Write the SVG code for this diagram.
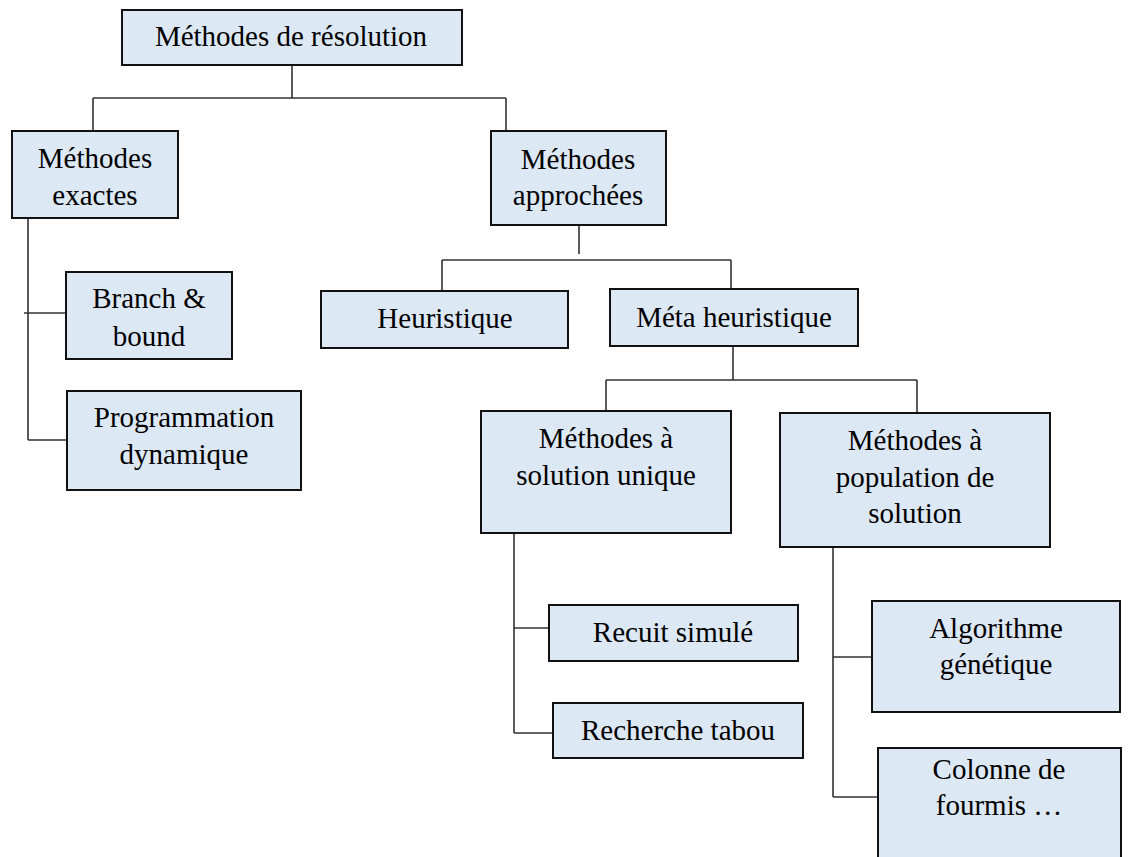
<svg xmlns="http://www.w3.org/2000/svg" width="1131" height="857" viewBox="0 0 1131 857">
  <style>
    .box { fill: #dde8f5; stroke: #111; stroke-width: 2; }
    .lbl { font-family: "Liberation Serif", "Times New Roman", serif; font-size: 29px; fill: #000; text-anchor: middle; }
    .wire { fill: none; stroke: #333; stroke-width: 1.6; }
  </style>
  <rect width="1131" height="857" fill="#ffffff"/>

  <!-- connectors -->
  <g id="connectors" class="wire">
    <!-- root to first level -->
    <path d="M292 65 V98 M93 98 H506 M93 98 V131 M506 98 V131"/>
    <!-- exact methods -->
    <path d="M28 218 V440 M24 313 H65 M28 440 H67"/>
    <!-- approximate methods -->
    <path d="M579 225 V254 M442 260 H731 M442 260 V290 M731 260 V289"/>
    <!-- meta-heuristics -->
    <path d="M733 346 V380 M606 380 H917 M606 380 V411 M917 380 V413"/>
    <!-- single-solution methods -->
    <path d="M514 533 V733 M514 628 H549 M514 733 H553"/>
    <!-- population methods -->
    <path d="M833 547 V797 M833 657 H871 M833 797 H878"/>
  </g>

  <g id="resolution">
    <rect class="box" x="122" y="10" width="340" height="55"/>
    <text class="lbl" x="291" y="46">Méthodes de résolution</text>
  </g>

  <g id="exactes">
    <rect class="box" x="12" y="131" width="166" height="87"/>
    <text class="lbl" x="95" y="168">Méthodes</text>
    <text class="lbl" x="95" y="205">exactes</text>
  </g>

  <g id="approchees">
    <rect class="box" x="491" y="131" width="175" height="94"/>
    <text class="lbl" x="578" y="169">Méthodes</text>
    <text class="lbl" x="578" y="205">approchées</text>
  </g>

  <g id="branch-bound">
    <rect class="box" x="66" y="272" width="166" height="87"/>
    <text class="lbl" x="149" y="308">Branch &amp;</text>
    <text class="lbl" x="149" y="346">bound</text>
  </g>

  <g id="programmation">
    <rect class="box" x="67" y="391" width="234" height="99"/>
    <text class="lbl" x="184" y="427">Programmation</text>
    <text class="lbl" x="184" y="464">dynamique</text>
  </g>

  <g id="heuristique">
    <rect class="box" x="321" y="291" width="247" height="57"/>
    <text class="lbl" x="445" y="328">Heuristique</text>
  </g>

  <g id="meta-heuristique">
    <rect class="box" x="610" y="289" width="248" height="57"/>
    <text class="lbl" x="734" y="327">Méta heuristique</text>
  </g>

  <g id="solution-unique">
    <rect class="box" x="481" y="411" width="250" height="122"/>
    <text class="lbl" x="606" y="448">Méthodes à</text>
    <text class="lbl" x="606" y="485">solution unique</text>
  </g>

  <g id="population">
    <rect class="box" x="780" y="413" width="270" height="134"/>
    <text class="lbl" x="915" y="450">Méthodes à</text>
    <text class="lbl" x="915" y="487">population de</text>
    <text class="lbl" x="915" y="523">solution</text>
  </g>

  <g id="recuit">
    <rect class="box" x="549" y="605" width="249" height="56"/>
    <text class="lbl" x="673" y="642">Recuit simulé</text>
  </g>

  <g id="tabou">
    <rect class="box" x="553" y="703" width="250" height="55"/>
    <text class="lbl" x="678" y="740">Recherche tabou</text>
  </g>

  <g id="genetique">
    <rect class="box" x="872" y="601" width="248" height="111"/>
    <text class="lbl" x="996" y="638">Algorithme</text>
    <text class="lbl" x="996" y="674">génétique</text>
  </g>

  <g id="fourmis">
    <path class="box" d="M878 858 V748 H1121 V858"/>
    <text class="lbl" x="999" y="779">Colonne de</text>
    <text class="lbl" x="999" y="815">fourmis …</text>
  </g>
</svg>
